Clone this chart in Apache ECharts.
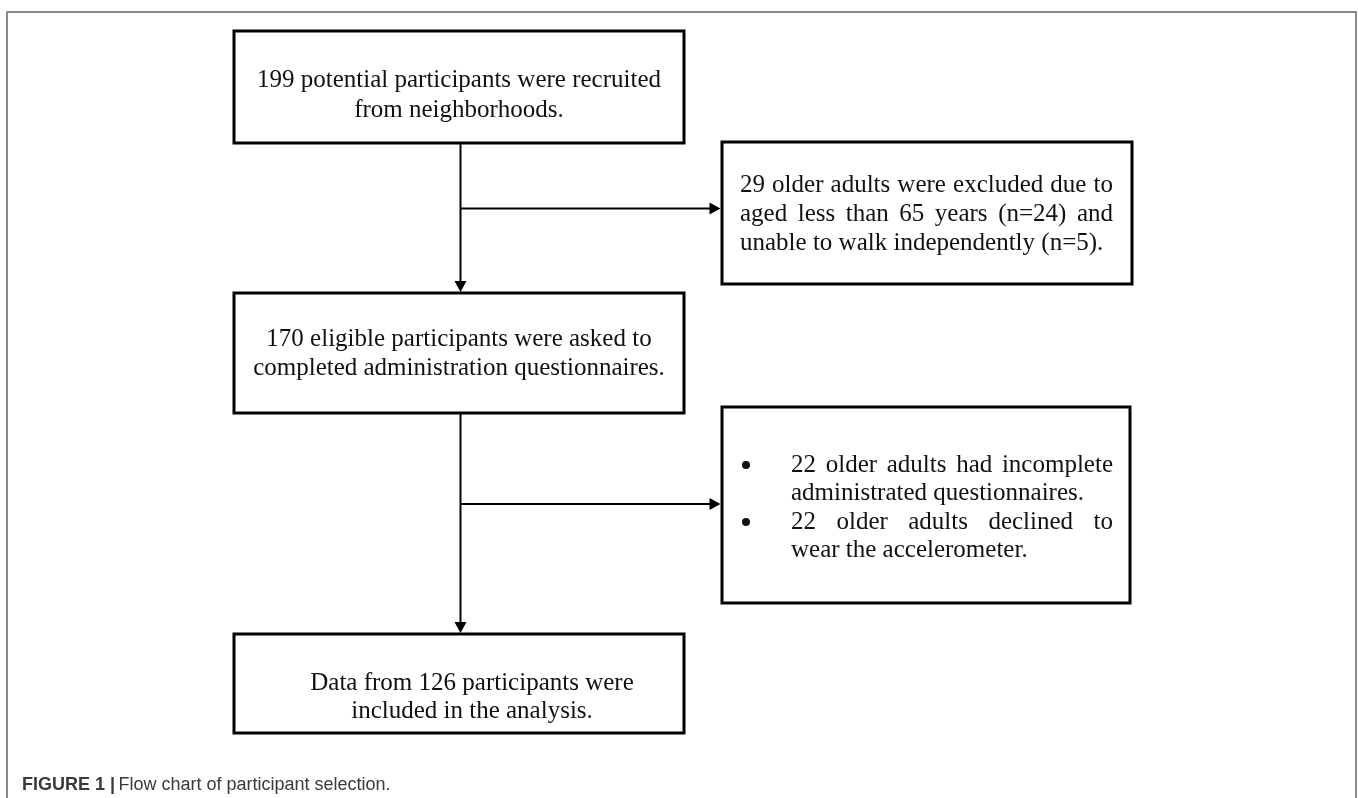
<!DOCTYPE html>
<html><head><meta charset="utf-8">
<script src="https://cdn.jsdelivr.net/npm/echarts@6/dist/echarts.min.js"></script>
<style>html,body{margin:0;padding:0;background:#fff}#c{width:1358px;height:798px}</style>
</head><body><div id="c"></div>
<script>
// ---- content ----
const stepTexts = [
  ["199 potential participants were recruited", "from neighborhoods."],
  ["170 eligible participants were asked to", "completed administration questionnaires."],
  ["Data from 126 participants were", "included in the analysis."]
];
const exclusion1Lines = [
  "29 older adults were excluded due to",
  "aged less than 65 years (n=24) and",
  "unable to walk independently (n=5)."
];
const exclusion2Items = [
  ["22 older adults had incomplete", "administrated questionnaires."],
  ["22 older adults declined to", "wear the accelerometer."]
];
const captionBold = "FIGURE 1 |";
const captionText = "Flow chart of participant selection.";

// ---- layout ----
const SERIF = "'Liberation Serif','Times New Roman',serif";
const FS = 25;
const INK = '#111';
const mainBoxes = [
  {x:234, y:31,  w:450, h:112, firstLine:80,  lh:30, cx:459},
  {x:234, y:293, w:450, h:120, firstLine:339, lh:29, cx:459},
  {x:234, y:634, w:450, h:99,  firstLine:683, lh:28, cx:472}
];
const sideBoxes = [
  {x:722, y:142, w:410, h:142, tx0:740, tx1:1113, firstLine:185, lh:29},
  {x:722, y:407, w:408, h:196, bx:746, tx0:791, tx1:1113, firstLine:465, lh:28.5}
];
const trunkX = 460.5;
const branchY = [208.5, 504];

const ctx = document.createElement('canvas').getContext('2d');
ctx.font = FS + "px 'Liberation Serif'";

function textEl(t, x, y, align) {
  return {
    type:'text', x:x, y:y, silent:true,
    style:{text:t, fontFamily:SERIF, fontSize:FS, fill:INK, align:align, verticalAlign:'middle'}
  };
}
function lineWords(line, x0, x1, y, justify) {
  const words = line.split(' ');
  const widths = words.map(w => ctx.measureText(w).width);
  const total = widths.reduce((a,b)=>a+b, 0);
  const space = ctx.measureText(' ').width;
  const gap = (justify && words.length > 1) ? (x1 - x0 - total) / (words.length - 1) : space;
  const els = [];
  let x = x0;
  words.forEach((w,i) => { els.push(textEl(w, x, y, 'left')); x += widths[i] + gap; });
  return els;
}
function rectEl(b) {
  return {type:'rect', silent:true, shape:{x:b.x, y:b.y, width:b.w, height:b.h},
    style:{fill:'#fff', stroke:'#000', lineWidth:3}};
}
function lineEl(x1,y1,x2,y2) {
  return {type:'line', silent:true, shape:{x1,y1,x2,y2}, style:{stroke:'#000', lineWidth:2}};
}
function headDown(x, tip) {
  return {type:'polygon', silent:true, shape:{points:[[x-6,tip-11],[x+6,tip-11],[x,tip]]}, style:{fill:'#000'}};
}
function headRight(tip, y) {
  return {type:'polygon', silent:true, shape:{points:[[tip-11,y-6],[tip-11,y+6],[tip,y]]}, style:{fill:'#000'}};
}

const els = [];
// outer frame
els.push({type:'rect', silent:true, shape:{x:7, y:12, width:1349, height:820},
  style:{fill:'none', stroke:'#8a8a8a', lineWidth:2}});

// connectors
const b1 = mainBoxes[0], b3 = mainBoxes[1], b5 = mainBoxes[2];
els.push(lineEl(trunkX, b1.y + b1.h, trunkX, b3.y - 10));
els.push(headDown(trunkX, b3.y - 1));
els.push(lineEl(trunkX, b3.y + b3.h, trunkX, b5.y - 10));
els.push(headDown(trunkX, b5.y - 1));
branchY.forEach((y,i) => {
  const sb = sideBoxes[i];
  els.push(lineEl(trunkX, y, sb.x - 10, y));
  els.push(headRight(sb.x - 1.5, y));
});

// main boxes
mainBoxes.forEach((b,i) => {
  els.push(rectEl(b));
  stepTexts[i].forEach((t,j) => els.push(textEl(t, b.cx, b.firstLine + j*b.lh, 'center')));
});

// side box 1 (justified paragraph)
const s1 = sideBoxes[0];
els.push(rectEl(s1));
exclusion1Lines.forEach((t,j) => {
  lineWords(t, s1.tx0, s1.tx1, s1.firstLine + j*s1.lh, j < exclusion1Lines.length - 1).forEach(e => els.push(e));
});

// side box 2 (bulleted list)
const s2 = sideBoxes[1];
els.push(rectEl(s2));
let row = 0;
exclusion2Items.forEach(item => {
  const y0 = s2.firstLine + row*s2.lh;
  els.push({type:'circle', silent:true, shape:{cx:s2.bx, cy:y0, r:4}, style:{fill:INK}});
  item.forEach((t,j) => {
    lineWords(t, s2.tx0, s2.tx1, s2.firstLine + row*s2.lh, j < item.length - 1).forEach(e => els.push(e));
    row++;
  });
});

// caption
els.push({type:'text', x:22, y:785, silent:true, style:{
  text:'{b|' + captionBold + '} {r|' + captionText + '}',
  verticalAlign:'middle', align:'left',
  rich:{
    b:{fontFamily:"'Liberation Sans',Arial,sans-serif", fontSize:18, fontWeight:'bold', fill:'#3a3a3a'},
    r:{fontFamily:"'Liberation Sans',Arial,sans-serif", fontSize:18, fill:'#3a3a3a'}
  }
}});

const chart = echarts.init(document.getElementById('c'), null, {renderer:'canvas'});
chart.setOption({backgroundColor:'#fff', animation:false, graphic:{elements:els}});
</script>
</body></html>
